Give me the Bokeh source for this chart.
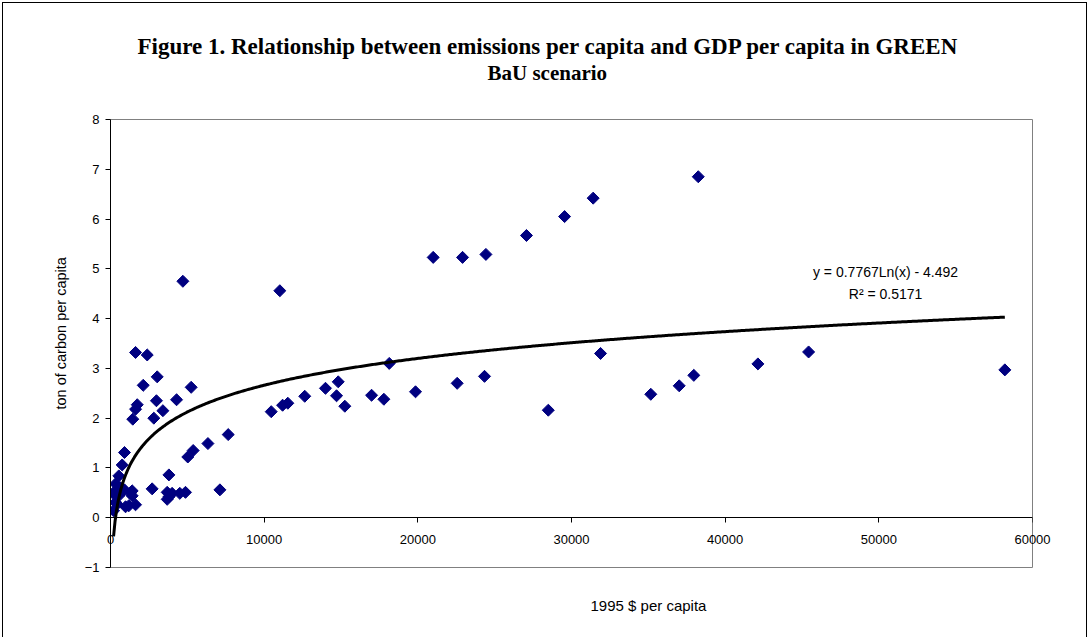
import numpy as np
from bokeh.plotting import figure
from bokeh.models import Label, FixedTicker, Title, LinearAxis
from bokeh.embed import file_html
from bokeh.resources import INLINE

# ---- data ----
gdp = [200, 330, 220, 330, 540, 760, 910, 540, 980, 1190, 1630, 1410, 1410, 910,
       260, 650, 1300, 430,
       2710, 3690, 3800, 3690, 3800, 4010, 4510, 4880, 7120,
       1630, 2390, 3040, 2130, 5250, 1740, 1630, 2990, 4300, 3410, 1450, 2820,
       7660, 6340, 5380, 5030, 4710, 11020,
       10460, 11200, 11540, 12640, 13990, 14820, 14710, 15250, 16990, 17790,
       18140, 19850, 22560, 24340, 28490,
       21000, 22910, 24430, 27070, 29550, 31410, 38250,
       31890, 35160, 37010, 37960, 42130, 45430, 58200]
emis = [0.14, 0.31, 0.51, 0.68, 0.84, 1.06, 1.31, 0.44, 0.22, 0.24, 0.26, 0.54, 0.44, 0.56,
        0.46, 0.60, 0.50, 0.27,
        0.58, 0.37, 0.42, 0.51, 0.86, 0.49, 0.49, 0.51, 0.56,
        3.32, 3.27, 2.83, 2.66, 2.62, 2.27, 2.18, 2.35, 2.37, 2.15, 1.98, 2.00,
        1.67, 1.49, 1.35, 1.22, 4.75, 4.56,
        2.13, 2.26, 2.30, 2.44, 2.60, 2.73, 2.45, 2.24, 2.46, 2.38,
        3.10, 2.53, 2.70, 2.84, 2.16,
        5.23, 5.23, 5.29, 5.67, 6.05, 6.42, 6.85,
        3.30, 2.48, 2.65, 2.86, 3.09, 3.33, 2.97]

x_ticks = [0, 10000, 20000, 30000, 40000, 50000, 60000]
y_ticks = [-1, 0, 1, 2, 3, 4, 5, 6, 7, 8]

title_lines = ["Figure 1. Relationship between emissions per capita and GDP per capita in GREEN",
               "BaU scenario"]
x_title = "1995 $ per capita"
y_title = "ton of carbon per capita"

trend_slope = 0.7767
trend_intercept = -4.492
trend_r2 = 0.5171

# ---- figure ----
p = figure(width=1085, height=635, x_range=(0, 60000), y_range=(-1, 8),
           output_backend="svg", toolbar_location=None,
           min_border_left=107, min_border_right=56,
           min_border_top=116, min_border_bottom=71)
p.styles = {"margin-left": "2px", "margin-top": "2px",
            "border-top": "1px solid black", "border-left": "1px solid black",
            "border-right": "1px solid black"}

p.background_fill_color = "white"
p.border_fill_color = "white"
p.outline_line_color = "#808080"
p.outline_line_width = 1
p.xgrid.visible = False
p.ygrid.visible = False

# points
p.scatter(gdp, emis, marker="square", size=8.5, angle=np.pi / 4,
          fill_color="#000080", line_color="#000080")

# logarithmic trend line (from the printed equation)
xs = np.linspace(min(gdp), max(gdp), 600)
p.line(xs, trend_slope * np.log(xs) + trend_intercept, line_color="black", line_width=3)

# y axis
yax = p.yaxis[0]
yax.ticker = FixedTicker(ticks=y_ticks)
yax.axis_line_color = "black"
yax.major_tick_line_color = "black"
yax.major_tick_out = 5
yax.major_tick_in = 0
yax.minor_tick_line_color = None
yax.major_label_standoff = 6
yax.major_label_text_font = "Liberation Sans"
yax.major_label_text_font_size = "13px"
yax.major_label_text_color = "black"

# x axis labels (bottom panel, pulled up to sit under the zero line)
xlab = p.xaxis[0]
xlab.ticker = FixedTicker(ticks=x_ticks)
xlab.axis_line_color = None
xlab.major_tick_line_color = None
xlab.minor_tick_line_color = None
xlab.major_tick_out = 0
xlab.major_tick_in = 0
xlab.major_label_standoff = -33
xlab.major_label_text_font = "Liberation Sans"
xlab.major_label_text_font_size = "13px"
xlab.major_label_text_color = "black"

# x axis line and ticks crossing at y = 0
xline = LinearAxis(fixed_location=0, ticker=FixedTicker(ticks=x_ticks),
                   axis_line_color="black", major_tick_line_color="black",
                   major_tick_out=5, major_tick_in=0, minor_tick_line_color=None,
                   major_label_text_alpha=0, major_label_text_font_size="1px")
p.add_layout(xline, "below")

# titles (spacer first: panels stack outward from the frame)
p.add_layout(Title(text=" ", standoff=32, text_font_size="1px"), "above")
p.add_layout(Title(text=title_lines[1], align="left", offset=377, standoff=0,
                   text_font="Liberation Serif", text_font_style="bold",
                   text_font_size="21px", text_color="black"), "above")
p.add_layout(Title(text=title_lines[0], align="left", offset=27, standoff=0,
                   text_font="Liberation Serif", text_font_style="bold",
                   text_font_size="23px", text_color="black"), "above")

# axis titles
p.add_layout(Title(text=" ", standoff=23, text_font_size="1px"), "below")
p.add_layout(Title(text=x_title, align="left", offset=480, standoff=2,
                   text_font="Liberation Sans", text_font_style="normal",
                   text_font_size="15px", text_color="black"), "below")
p.add_layout(Title(text=y_title, align="left", offset=158, standoff=26,
                   text_font="Liberation Sans", text_font_style="normal",
                   text_font_size="14.5px", text_color="black"), "left")

# equation
p.add_layout(Label(x=50437, y=4.94, text="y = %.4fLn(x) - %.3f" % (trend_slope, -trend_intercept),
                   text_align="center", text_baseline="middle", text_font="Liberation Sans",
                   text_font_size="14px", text_color="black"))
p.add_layout(Label(x=50437, y=4.50, text="R\u00b2 = %.4f" % trend_r2,
                   text_align="center", text_baseline="middle", text_font="Liberation Sans",
                   text_font_size="14px", text_color="black"))

open("out.html", "w").write(file_html(p, INLINE))
